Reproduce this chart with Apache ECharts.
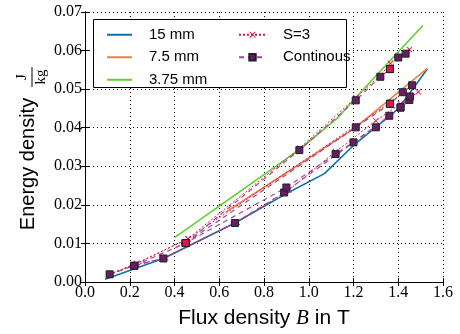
<!DOCTYPE html>
<html>
<head>
<meta charset="utf-8">
<script src="https://cdn.jsdelivr.net/npm/echarts@6/dist/echarts.min.js"></script>
<style>
  html, body { margin: 0; padding: 0; background: #fff; }
  #chart { width: 460px; height: 334px; }
</style>
</head>
<body>
<div id="chart"></div>
<script>
// simulated curves, [B in T, energy density in J/kg]
const line15 = [[0.09, 0.0007], [0.35, 0.0061], [0.67, 0.0153], [0.89, 0.0226], [1.07, 0.0281], [1.2, 0.0354], [1.4, 0.0449], [1.53, 0.0552]];
const line75 = [[0.63, 0.0182], [0.95, 0.0302], [1.21, 0.0401], [1.53, 0.0554]];
const line375 = [[0.4, 0.0115], [0.96, 0.0344], [1.13, 0.0426], [1.2, 0.0472], [1.51, 0.0665]];

// S=3 measurements
const s3a = [[0.11, 0.002], [0.23, 0.0045], [0.36, 0.0063], [0.68, 0.0155], [0.91, 0.0238], [1.12, 0.0338], [1.3, 0.0418], [1.41, 0.0462], [1.49, 0.0493]];
const s3b = [[0.11, 0.002], [0.23, 0.0048], [0.46, 0.0112], [1.21, 0.0405], [1.37, 0.0467], [1.46, 0.0508]];
const s3c = [[0.11, 0.002], [0.23, 0.0048], [0.46, 0.0112], [0.96, 0.0347], [1.21, 0.0478], [1.32, 0.0535], [1.365, 0.0567], [1.45, 0.0603]];

// continuous measurements
const contA = [[0.11, 0.002], [0.22, 0.0042], [0.35, 0.0061], [0.67, 0.0153], [0.89, 0.0232], [1.2, 0.0362], [1.36, 0.0431], [1.41, 0.0452], [1.45, 0.0472]];
const contM = [[0.22, 0.0042], [0.45, 0.0101], [0.9, 0.0245], [1.12, 0.0332], [1.3, 0.0401], [1.41, 0.0453], [1.452, 0.0481]];
const contB = [[0.45, 0.0101], [1.21, 0.0401], [1.363, 0.0462], [1.42, 0.0492], [1.462, 0.051]];
const contC = [[0.45, 0.0101], [0.958, 0.0342], [1.21, 0.0471], [1.32, 0.0532], [1.363, 0.0552], [1.4, 0.0582], [1.433, 0.0592]];
const contRed = [[0.45, 0.0101], [1.363, 0.0552], [1.363, 0.0462]];

const xTicks = { min: 0, max: 1.6, interval: 0.2 };
const yTicks = { min: 0, max: 0.07, interval: 0.01 };

const crossPath = 'path://M0,1L1,0L5,4L9,0L10,1L6,5L10,9L9,10L5,6L1,10L0,9L4,5Z';
const crimson = '#e0144c';
const purple = '#9b4a9b';
const square = '#641e64';

function solid(name, data, color) {
  return {
    name, type: 'line', data, symbol: 'none', z: 3,
    lineStyle: { color, width: 1.6 }, itemStyle: { color }
  };
}
function s3(data) {
  return {
    name: 'S=3', type: 'line', data, symbol: crossPath, symbolSize: 6, z: 4,
    lineStyle: { color: crimson, width: 1, type: [2, 2] },
    itemStyle: { color: crimson }
  };
}
function cont(data, fill, noLine) {
  return {
    name: 'Continous', type: 'line', data, symbol: 'rect', symbolSize: 7, z: 5,
    lineStyle: { color: purple, width: noLine ? 0 : 1.2, type: [5, 4] },
    itemStyle: { color: fill, borderColor: '#222', borderWidth: 1 }
  };
}

const chart = echarts.init(document.getElementById('chart'), null, { renderer: 'canvas' });

const tickLabel = { fontFamily: 'Liberation Serif', fontSize: 16, color: '#000' };
const frameAxis = { show: true, lineStyle: { color: '#000', width: 1 } };
const gridLine = { show: true, lineStyle: { color: '#000', width: 1, type: [1, 3] } };
const legendText = { fontFamily: 'Liberation Sans', fontSize: 15, color: '#000', padding: [0, 0, 0, 12], lineHeight: 17.5 };

chart.setOption({
  animation: false,
  grid: { left: 85, right: 17, top: 12, bottom: 44 },
  graphic: [
    {
      type: 'rect', z: 3,
      shape: { x: 93.5, y: 19.5, width: 253, height: 68 },
      style: { fill: '#fff', stroke: '#000', lineWidth: 1 }
    },
    {
      type: 'group', x: 28, y: 164, rotation: Math.PI / 2,
      children: [
        { type: 'text', x: 0, y: 0, style: { text: 'Energy density', font: '20px "Liberation Sans"', fill: '#000', textAlign: 'center', textVerticalAlign: 'middle' } },
        { type: 'text', x: 87, y: -6, style: { text: 'J', font: '15px "Liberation Serif"', fill: '#000', textAlign: 'center', textVerticalAlign: 'middle' } },
        { type: 'line', shape: { x1: 77, y1: 4, x2: 97, y2: 4 }, style: { stroke: '#000', lineWidth: 1 } },
        { type: 'text', x: 87, y: 13, style: { text: 'kg', font: '15px "Liberation Serif"', fill: '#000', textAlign: 'center', textVerticalAlign: 'middle' } }
      ]
    }
  ],
  legend: [
    {
      data: ['15 mm', '7.5 mm', '3.75 mm'],
      icon: 'rect',
      orient: 'vertical', left: 102, top: 21, z: 5,
      itemWidth: 25, itemHeight: 2, itemGap: 5,
      textStyle: legendText
    },
    {
      data: ['S=3', 'Continous'],
      orient: 'vertical', left: 233, top: 21, z: 5,
      itemWidth: 27, itemHeight: 8, itemGap: 5,
      textStyle: legendText
    }
  ],
  xAxis: [
    {
      type: 'value', ...xTicks,
      name: '{t|Flux density }{b|B}{t| in T}', nameLocation: 'middle', nameGap: 26,
      nameTextStyle: { rich: {
        t: { fontFamily: 'Liberation Sans', fontSize: 21, color: '#000' },
        b: { fontFamily: 'Liberation Serif', fontStyle: 'italic', fontSize: 21, color: '#000' }
      } },
      axisLine: frameAxis,
      axisTick: { show: true, inside: true, length: 4, lineStyle: { color: '#000' } },
      axisLabel: { ...tickLabel, margin: 3, formatter: v => v.toFixed(1) },
      splitLine: gridLine
    },
    {
      type: 'value', position: 'top', ...xTicks,
      axisLine: frameAxis,
      axisTick: { show: true, inside: true, length: 4, lineStyle: { color: '#000' } },
      axisLabel: { show: false }, splitLine: { show: false }
    }
  ],
  yAxis: [
    {
      type: 'value', ...yTicks,
      axisLine: frameAxis,
      axisTick: { show: true, inside: true, length: 4, lineStyle: { color: '#000' } },
      axisLabel: { ...tickLabel, margin: 3, formatter: v => v.toFixed(2) },
      splitLine: gridLine
    },
    {
      type: 'value', position: 'right', ...yTicks,
      axisLine: frameAxis,
      axisTick: { show: true, inside: true, length: 4, lineStyle: { color: '#000' } },
      axisLabel: { show: false }, splitLine: { show: false }
    }
  ],
  series: [
    solid('15 mm', line15, '#1170aa'),
    solid('7.5 mm', line75, '#f07f3c'),
    solid('3.75 mm', line375, '#5ed12c'),
    s3(s3a), s3(s3b), s3(s3c),
    cont(contA, square), cont(contM, square), cont(contB, square), cont(contC, square),
    cont(contRed, crimson, true)
  ]
});
</script>
</body>
</html>
